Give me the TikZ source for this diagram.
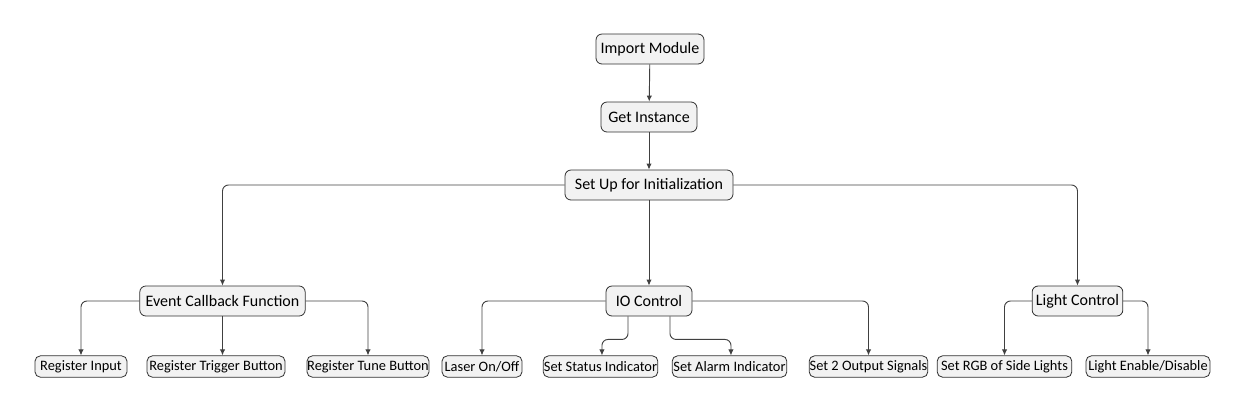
\documentclass[tikz,border=0pt]{standalone}
\usepackage{fontspec}
\setmainfont{Carlito}
\usetikzlibrary{arrows.meta,calc}
\definecolor{boxfill}{HTML}{F2F2F2}
\definecolor{boxline}{HTML}{303030}
\definecolor{conline}{HTML}{404040}
\tikzset{
  bigbox/.style={draw=boxline, fill=boxfill, rounded corners=4.5pt, line width=0.6pt,
    minimum height=22.5pt, inner sep=0pt, font=\fontsize{12}{14}\selectfont},
  smallbox/.style={draw=boxline, fill=boxfill, rounded corners=4pt, line width=0.6pt,
    minimum height=16pt, inner sep=0pt, font=\fontsize{10.8}{12}\selectfont},
  conn/.style={draw=conline, line width=0.7pt, rounded corners=4.5pt,
    -{Latex[length=4.5pt,width=4pt]}},
}
\begin{document}
\begin{tikzpicture}[x=0.75pt,y=-0.75pt]
\useasboundingbox (0,0) rectangle (1246,412);
% level nodes
\node[bigbox, minimum width=81pt] (imp) at (650,49) {Import Module};
\node[bigbox, minimum width=72pt] (get) at (649,117) {Get Instance};
\node[bigbox, minimum width=126pt] (setup) at (649,185) {Set Up for Initialization};
\node[bigbox, minimum width=124pt] (ecb) at (222.5,301) {Event Callback Function};
\node[bigbox, minimum width=64.5pt] (io) at (649,301) {IO Control};
\node[bigbox, minimum width=68pt] (light) at (1077.5,301) {Light Control};
% leaves
\node[smallbox, minimum width=69pt] (ri) at (81,366.5) {Register Input};
\node[smallbox, minimum width=103.5pt] (rtb) at (216,366.5) {Register Trigger Button};
\node[smallbox, minimum width=91.5pt] (rtune) at (368,366.5) {Register Tune Button};
\node[smallbox, minimum width=60pt] (laser) at (482,366.5) {Laser On/Off};
\node[smallbox, minimum width=86pt] (status) at (600.5,366.5) {Set Status Indicator};
\node[smallbox, minimum width=86pt] (alarm) at (729.5,366.5) {Set Alarm Indicator};
\node[smallbox, minimum width=89pt] (out) at (868.5,366.5) {Set 2 Output Signals};
\node[smallbox, minimum width=101pt] (rgb) at (1004.5,366.5) {Set RGB of Side Lights};
\node[smallbox, minimum width=93pt] (led) at (1148,366.5) {Light Enable/Disable};
% connectors
\draw[conn] (imp) -- (get);
\draw[conn] (get) -- (setup);
\draw[conn] (setup.west) -| (ecb.north);
\draw[conn] (setup) -- (io);
\draw[conn] (setup.east) -| (light.north);
\draw[conn] (ecb.west) -| (ri.north);
\draw[conn] (ecb.south) -- (ecb.south |- rtb.north);
\draw[conn] (ecb.east) -| (rtune.north);
\draw[conn] (io.west) -| (laser.north);
\draw[conn] ([xshift=-15.75pt]io.south) |- ([xshift=1.1pt,yshift=12pt]status.north) -- ([xshift=1.1pt]status.north);
\draw[conn] ([xshift=15.75pt]io.south) |- ([xshift=1.1pt,yshift=12pt]alarm.north) -- ([xshift=1.1pt]alarm.north);
\draw[conn] (io.east) -| (out.north);
\draw[conn] (light.west) -| (rgb.north);
\draw[conn] (light.east) -| (led.north);
\end{tikzpicture}
\end{document}
